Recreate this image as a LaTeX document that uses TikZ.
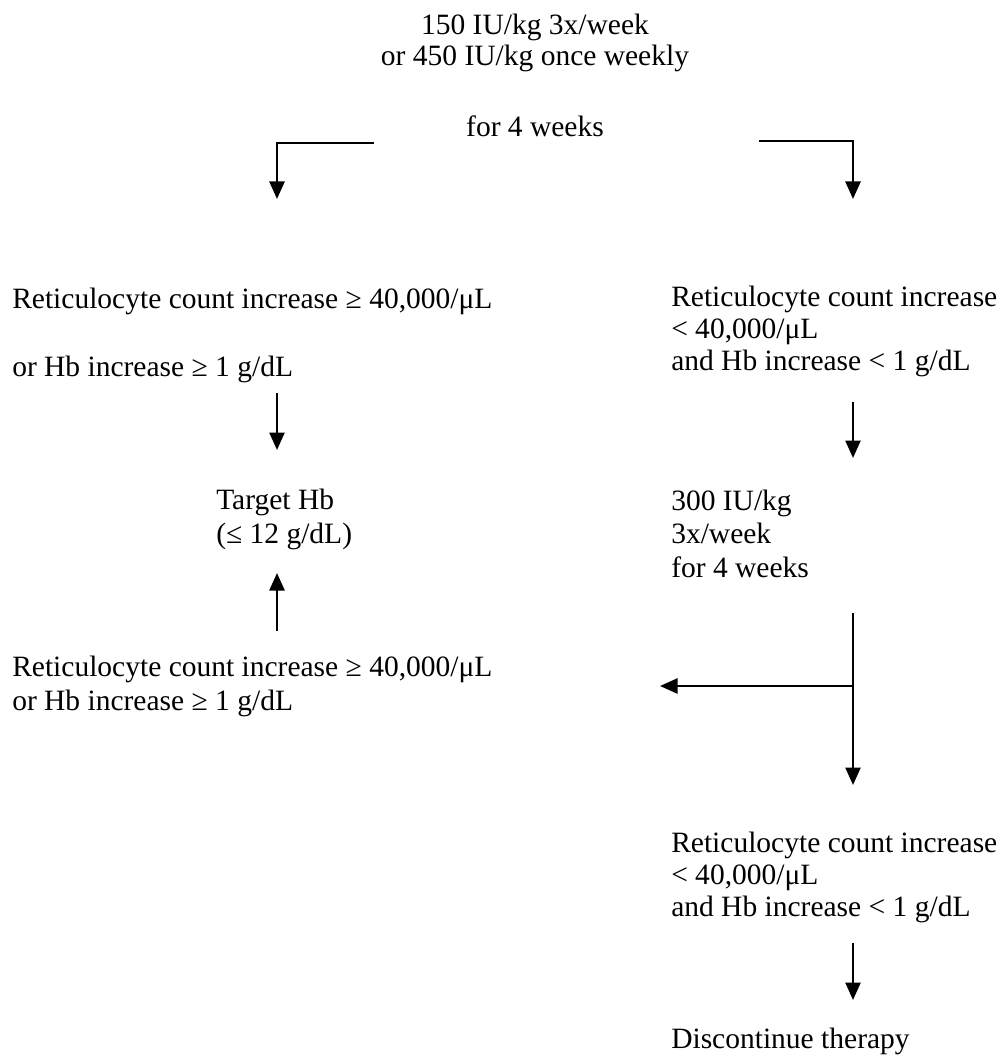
\documentclass[tikz,border=0pt]{standalone}
\usepackage{fontspec}
\setmainfont{Liberation Serif}
\usetikzlibrary{arrows.meta}

\begin{document}
\begin{tikzpicture}[x=0.4pt,y=-0.4pt,line width=1pt,
  >={Triangle[length=7pt,width=6pt]},
  txt/.style={anchor=base west,align=left,inner sep=0pt,
    font=\fontsize{11.8}{13.4}\selectfont}]
\useasboundingbox (0,0) rectangle (999,1059);
% text blocks (placed at the baseline of their last line)
\node[txt,anchor=base,align=center] (start) at (535,137)
  {150 IU/kg 3x/week\\[-1pt]or 450 IU/kg once weekly\\[15pt]for 4 weeks};
\node[txt] (resp1) at (11,376)
  {Reticulocyte count increase ≥ 40,000/μL\\[13.8pt]or Hb increase ≥ 1 g/dL};
\node[txt] (noresp1) at (670,370)
  {Reticulocyte count increase\\[-0.6pt]< 40,000/μL\\[-0.6pt]and Hb increase < 1 g/dL};
\node[txt] (target) at (215,543) {Target Hb\\(≤ 12 g/dL)};
\node[txt] (dose2) at (670,577) {300 IU/kg\\3x/week\\for 4 weeks};
\node[txt] (resp2) at (11,710)
  {Reticulocyte count increase ≥ 40,000/μL\\or Hb increase ≥ 1 g/dL};
\node[txt] (noresp2) at (670,916)
  {Reticulocyte count increase\\[-0.6pt]< 40,000/μL\\[-0.6pt]and Hb increase < 1 g/dL};
\node[txt] (stop) at (670,1048) {Discontinue therapy};
%
\coordinate (s1) at (374,143); \coordinate (s1e) at (277,199);
\coordinate (s2) at (759,141); \coordinate (s2e) at (853,199);
\coordinate (r1) at (277,393); \coordinate (r1e) at (277,450);
\coordinate (n1) at (853,402); \coordinate (n1e) at (853,458);
\coordinate (r2) at (277,631); \coordinate (r2e) at (277,573);
\coordinate (d2) at (853,613); \coordinate (d2e) at (853,785);
\coordinate (br) at (853,686); \coordinate (bre) at (660,686);
\coordinate (n2) at (853,943); \coordinate (n2e) at (853,1000);
\draw[->] (s1) -| (s1e); \draw[->] (s2) -| (s2e);
\draw[->] (r1) -- (r1e); \draw[->] (n1) -- (n1e);
\draw[->] (r2) -- (r2e);
\draw[->] (d2) -- (d2e); \draw[->] (br) -- (bre);
\draw[->] (n2) -- (n2e);
\end{tikzpicture}
\end{document}
